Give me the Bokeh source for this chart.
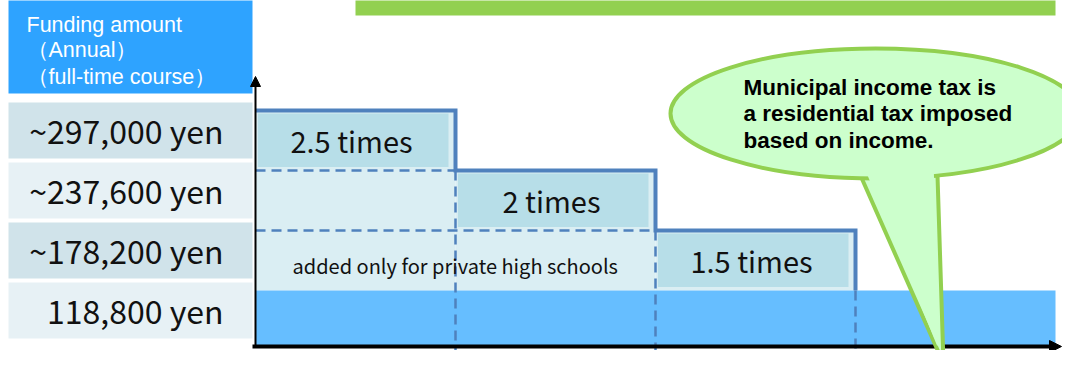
from bokeh.plotting import figure
from bokeh.models import Range1d, Arrow, NormalHead
from bokeh.core.properties import value
from bokeh.embed import file_html
from bokeh.resources import INLINE

# ---------------- data ----------------
funding_labels = ["~297,000 yen", "~237,600 yen", "~178,200 yen", "118,800 yen"]
multipliers = [2.5, 2.0, 1.5]
multiplier_labels = ["2.5 times", "2 times", "1.5 times"]
base_multiplier = 1.0
band_index = [0, 1, 2]
n_bands = 4
header_lines = ["Funding amount", "（Annual）", "（full-time course）"]
private_note = "added only for private high schools"
bubble_lines = ["Municipal income tax is", "a residential tax imposed", "based on income."]

# ---------------- layout (figure pixels -> data units) ----------------
W, H = 1062, 350
X_ORIGIN, BAND_PX = 255.0, 200.0
Y_BASE, UNIT_PX = 290.0, 120.0


def bx(px):
    return (px - X_ORIGIN) / BAND_PX


def my(py):
    return base_multiplier + (Y_BASE - py) / UNIT_PX


AXIS_M = my(346)

p = figure(width=W, height=H, output_backend="svg", toolbar_location=None,
           x_range=Range1d(bx(0), bx(W)), y_range=Range1d(my(H), my(0)),
           min_border=0, outline_line_color=None)
p.axis.visible = False
p.grid.visible = False
p.background_fill_color = "white"
p.border_fill_color = "white"

LABEL_FONT = value("Noto Sans CJK JP")
SANS = value("Liberation Sans")

# title banner (cut at the top)
p.quad(left=[bx(355)], right=[bx(1055)], top=[my(-10)], bottom=[my(15)],
       fill_color="#92D050", line_color=None)

# header box
p.quad(left=[bx(8)], right=[bx(252)], top=[my(-10)], bottom=[my(93)],
       fill_color="#2EA3FF", line_color=None)
p.text(x=[bx(26)] * 3, y=[my(24), my(49), my(76)], text=header_lines,
       text_font=SANS, text_font_size="21.5px", text_color="white",
       text_baseline="middle", text_align="left")

# left level rows
levels = multipliers + [base_multiplier]
row_colors = ["#D0E3EA", "#E7F1F5", "#D0E3EA", "#E7F1F5"]
p.quad(left=[bx(8)] * 4, right=[bx(252)] * 4,
       top=[lv + 0.067 for lv in levels], bottom=[lv - 0.4 for lv in levels],
       fill_color=row_colors, line_color=None)
p.text(x=[bx(223)] * 4, y=[lv - 0.165 for lv in levels], text=funding_labels,
       text_font=LABEL_FONT, text_font_size="32px", text_color="#111111",
       text_baseline="middle", text_align="right")

# stepped additional region
p.quad(left=band_index, right=[i + 1 for i in band_index],
       bottom=[base_multiplier] * 3, top=multipliers,
       fill_color="#DAEEF3", line_color=None)
p.quad(left=[i + 0.012 for i in band_index], right=[i + 0.965 for i in band_index],
       top=[m - 0.025 for m in multipliers], bottom=[m - 0.47 for m in multipliers],
       fill_color="#B7DEE8", line_color=None)

# base bar
p.quad(left=[0], right=[n_bands], bottom=[AXIS_M], top=[base_multiplier],
       fill_color="#66BEFF", line_color=None)

# dashed guides
for k in range(1, len(multipliers)):
    p.line([0, band_index[k]], [multipliers[k], multipliers[k]],
           line_color="#4F81BD", line_width=2.5, line_dash="10 6")
tops = multipliers[1:] + [base_multiplier]
for k, t in enumerate(tops):
    p.line([band_index[k] + 1, band_index[k] + 1], [t, my(380)],
           line_color="#4F81BD", line_width=2.5, line_dash="10 6")

# step outline
sx, sy = [], []
for i, m in zip(band_index, multipliers):
    sx += [i, i + 1]
    sy += [m, m]
sx.append(band_index[-1] + 1)
sy.append(base_multiplier)
p.line(sx, sy, line_color="#4F81BD", line_width=4, line_join="miter")

# texts in steps
p.text(x=[i + 0.48 for i in band_index], y=[m - 0.245 for m in multipliers],
       text=multiplier_labels, text_font=LABEL_FONT, text_font_size="29px",
       text_color="#111111", text_baseline="middle", text_align="center")
p.text(x=[bx(292)], y=[my(265)], text=[private_note], text_font=LABEL_FONT,
       text_font_size="20px", text_color="#111111", text_baseline="middle",
       text_align="left")

# axes
p.add_layout(Arrow(end=NormalHead(size=10, fill_color="black", line_color="black"),
                   x_start=0, y_start=AXIS_M, x_end=0, y_end=my(76),
                   line_color="black", line_width=2))
p.add_layout(Arrow(end=NormalHead(size=12, fill_color="black", line_color="black"),
                   x_start=bx(252), y_start=AXIS_M, x_end=bx(1061), y_end=AXIS_M,
                   line_color="black", line_width=4))

# speech bubble (drawn above the axes)
tail_x = [bx(860), bx(937), bx(943)]
tail_y = [my(175), my(175), my(363)]
r1 = p.patch(tail_x, tail_y, fill_color="#CCFFCC", line_color="#92D050", line_width=4)
r2 = p.ellipse(x=[bx(875)], y=[my(113)], width=[410 / BAND_PX], height=[130 / UNIT_PX],
               fill_color="#CCFFCC", line_color="#92D050", line_width=4)
r3 = p.patch([bx(861), bx(933), bx(938.5), bx(936.5)],
             [my(160), my(160), my(345), my(345)],
             fill_color="#CCFFCC", line_color=None)
r4 = p.text(x=[bx(743)] * 3, y=[my(87), my(113), my(140)], text=bubble_lines,
            text_font=SANS, text_font_style="bold", text_font_size="22.5px",
            text_color="black", text_baseline="middle", text_align="left")
for r in (r1, r2, r3, r4):
    r.level = "overlay"

open("out.html", "w").write(file_html(p, INLINE))
